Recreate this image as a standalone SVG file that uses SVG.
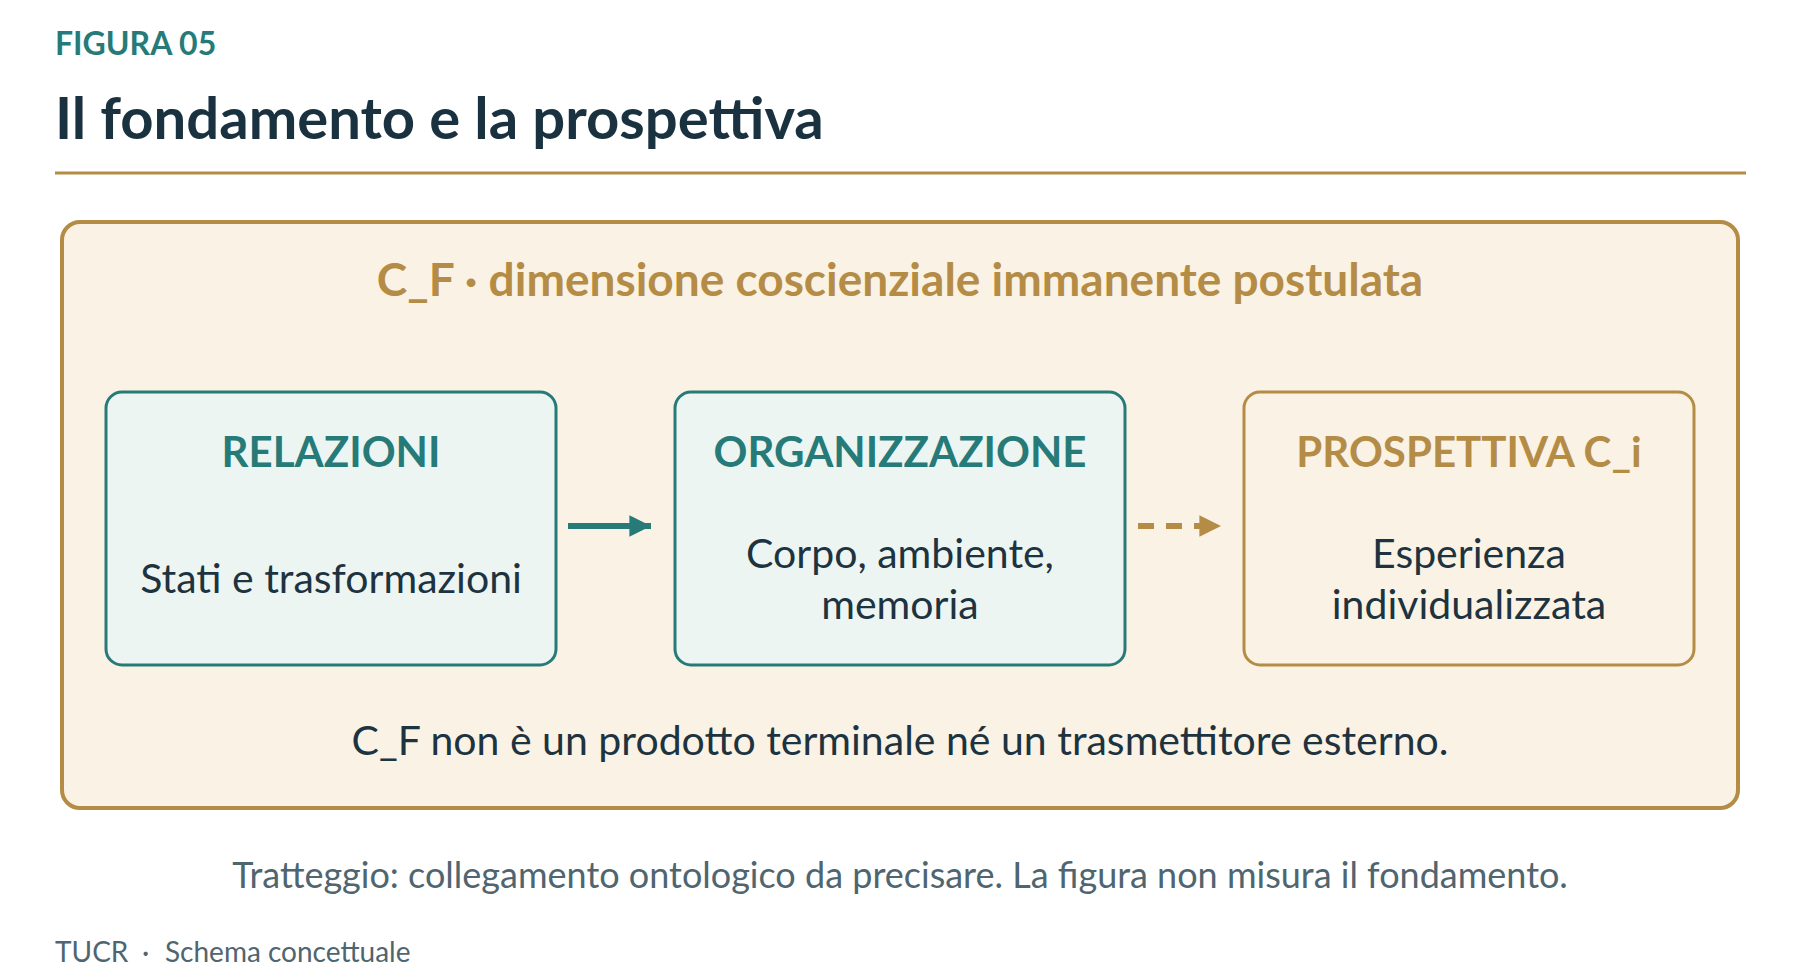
<svg xmlns="http://www.w3.org/2000/svg" width="1800" height="980" viewBox="0 0 1800 980">
  <defs>
    <style>
      text { font-family: Lato, "Noto Sans", "Liberation Sans", sans-serif; }
      .kicker { font-size: 32px; font-weight: 700; fill: #267B78; }
      .title { font-size: 58px; font-weight: 700; fill: #1A3140; }
      .frame-title { font-size: 46px; font-weight: 700; fill: #B48C45; text-anchor: middle; }
      .node-title-teal { font-size: 42px; font-weight: 700; fill: #267B78; text-anchor: middle; }
      .node-title-gold { font-size: 42px; font-weight: 700; fill: #B48C45; text-anchor: middle; }
      .node-body { font-size: 41px; font-weight: 400; fill: #1E3340; text-anchor: middle; }
      .note { font-size: 41px; font-weight: 400; fill: #1E3340; text-anchor: middle; }
      .caption { font-size: 36px; font-weight: 400; fill: #4F6570; text-anchor: middle; }
      .footer { font-size: 28px; font-weight: 400; fill: #4F6570; }
      .box-teal { fill: #EDF5F3; stroke: #267B78; stroke-width: 3; }
      .box-gold { fill: #FAF2E4; stroke: #B48C45; stroke-width: 3; }
    </style>
    <marker id="head-teal" viewBox="0 0 10 10" refX="10" refY="5" markerWidth="3.6" markerHeight="3.6" markerUnits="strokeWidth" orient="auto">
      <path d="M0,0 L10,5 L0,10 Z" fill="#267B78"/>
    </marker>
    <marker id="head-gold" viewBox="0 0 10 10" refX="10" refY="5" markerWidth="3.6" markerHeight="3.6" markerUnits="strokeWidth" orient="auto">
      <path d="M0,0 L10,5 L0,10 Z" fill="#B48C45"/>
    </marker>
  </defs>

  <rect width="1800" height="980" fill="#FFFFFF"/>

  <g id="header">
    <text class="kicker" x="55" y="55">FIGURA 05</text>
    <text class="title" x="55" y="139">Il fondamento e la prospettiva</text>
    <line x1="55" y1="173" x2="1746" y2="173" stroke="#B48C45" stroke-width="3"/>
  </g>

  <g id="frame">
    <rect x="62" y="222" width="1676" height="586" rx="18" ry="18" fill="#FAF2E4" stroke="#B48C45" stroke-width="4"/>
    <text class="frame-title" x="900" y="296">C_F · dimensione coscienziale immanente postulata</text>
    <text class="note" x="900" y="755">C_F non è un prodotto terminale né un trasmettitore esterno.</text>
  </g>

  <g id="node-relazioni">
    <rect class="box-teal" x="106" y="392" width="450" height="273" rx="16" ry="16"/>
    <text class="node-title-teal" x="331" y="467">RELAZIONI</text>
    <text class="node-body" x="331" y="593">Stati e trasformazioni</text>
  </g>

  <g id="node-organizzazione">
    <rect class="box-teal" x="675" y="392" width="450" height="273" rx="16" ry="16"/>
    <text class="node-title-teal" x="900" y="467">ORGANIZZAZIONE</text>
    <text class="node-body" x="900" y="568">Corpo, ambiente,</text>
    <text class="node-body" x="900" y="619">memoria</text>
  </g>

  <g id="node-prospettiva">
    <rect class="box-gold" x="1244" y="392" width="450" height="273" rx="16" ry="16"/>
    <text class="node-title-gold" x="1469" y="467">PROSPETTIVA C_i</text>
    <text class="node-body" x="1469" y="568">Esperienza</text>
    <text class="node-body" x="1469" y="619">individualizzata</text>
  </g>

  <g id="connectors">
    <line x1="568" y1="526" x2="651" y2="526" stroke="#267B78" stroke-width="6" marker-end="url(#head-teal)"/>
    <line x1="1138" y1="526" x2="1221" y2="526" stroke="#B48C45" stroke-width="6" stroke-dasharray="16 12" marker-end="url(#head-gold)"/>
  </g>

  <g id="caption">
    <text class="caption" x="900" y="888">Tratteggio: collegamento ontologico da precisare. La figura non misura il fondamento.</text>
  </g>

  <g id="footer">
    <text class="footer" x="55" y="962">TUCR</text>
    <text class="footer" x="142" y="962">·</text>
    <text class="footer" x="165" y="962">Schema concettuale</text>
  </g>
</svg>
